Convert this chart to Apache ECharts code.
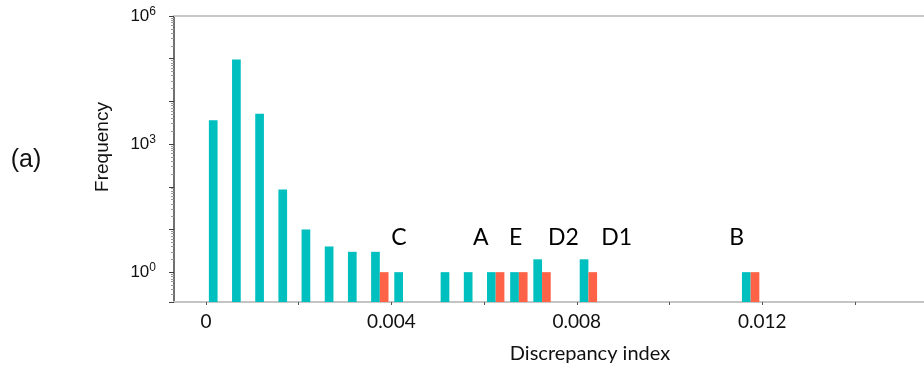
<!DOCTYPE html>
<html>
<head>
<meta charset="utf-8">
<script src="https://cdn.jsdelivr.net/npm/echarts@6/dist/echarts.min.js"></script>
<style>
  html, body { margin: 0; padding: 0; background: #ffffff; }
  #chart { width: 924px; height: 368px; }
</style>
</head>
<body>
<div id="chart"></div>
<script>
// Histogram bin centres along the discrepancy index
const binCenters = [0.00025, 0.00075, 0.00125, 0.00175, 0.00225, 0.00275, 0.00325, 0.00375,
                    0.00425, 0.00525, 0.00575, 0.00625, 0.00675, 0.00725, 0.00825, 0.01175];
// Counts for all items (teal) and for the flagged items (orange); null = empty bin
const countsAll    = [3600, 96000, 5100, 86, 10, 4, 3, 3, 1, 1, 1, 1, 1, 2, 2, 1];
const countsMarked = [null, null, null, null, null, null, null, 1, null, null, null, 1, 1, 1, 1, 1];

// Letter annotations above the flagged bins
const markerNames = ['C', 'A', 'E', 'D2', 'D1', 'B'];
const markerX     = [0.00416, 0.00593, 0.00668, 0.00771, 0.00886, 0.01145];
const markerY     = [6.6, 6.6, 6.6, 6.6, 6.6, 6.6];

// Axis ticks and labels
const xTickValues  = [0, 0.002, 0.004, 0.006, 0.008, 0.010, 0.012, 0.014];
const xLabelValues = [0, 0.004, 0.008, 0.012];
const yLabelPowers = [0, 3, 6];

const X_MIN = -0.00069, X_MAX = 0.01549;
const Y_MIN = 0.2, Y_MAX = 1e6;
const BAR_W = 8.7;
const TEAL = '#00bfbf';
const ORANGE = '#ff6347';

function barSeries(name, values, color, offset) {
  const data = [];
  binCenters.forEach((x, i) => { if (values[i] != null) data.push([x, values[i]]); });
  return {
    name: name,
    type: 'custom',
    xAxisIndex: 0,
    yAxisIndex: 0,
    data: data,
    encode: { x: 0, y: 1 },
    renderItem: function (params, api) {
      const top = api.coord([api.value(0), api.value(1)]);
      const base = api.coord([api.value(0), Y_MIN]);
      return {
        type: 'rect',
        shape: { x: top[0] + offset, y: top[1], width: BAR_W, height: base[1] - top[1] },
        style: { fill: color }
      };
    }
  };
}

const chart = echarts.init(document.getElementById('chart'), null, { renderer: 'canvas' });

chart.setOption({
  animation: false,
  backgroundColor: '#ffffff',
  grid: { left: 174, top: 16, right: 0, bottom: 66, containLabel: false },
  xAxis: [{
    type: 'value',
    min: X_MIN,
    max: X_MAX,
    axisLine: { show: true, onZero: false, lineStyle: { color: '#c4c4c4', width: 2 } },
    axisTick: { show: true, customValues: xTickValues, length: 3, lineStyle: { color: '#555555', width: 1 } },
    axisLabel: {
      customValues: xLabelValues,
      formatter: v => (Math.abs(v) < 1e-12 ? '0' : v.toFixed(3)),
      fontFamily: 'Lato', fontSize: 19, color: '#111111', margin: 10
    },
    splitLine: { show: false }
  }, {
    type: 'value',
    position: 'top',
    min: X_MIN,
    max: X_MAX,
    axisLine: { show: true, onZero: false, lineStyle: { color: '#c8c8c8', width: 2 } },
    axisTick: { show: false },
    axisLabel: { show: false },
    splitLine: { show: false }
  }],
  yAxis: {
    type: 'log',
    logBase: 10,
    min: Y_MIN,
    max: Y_MAX,
    axisLine: { show: true, onZero: false, lineStyle: { color: '#404040', width: 1.5 } },
    axisTick: { show: true, length: 5, lineStyle: { color: '#404040' } },
    minorTick: { show: true, splitNumber: 9, length: 3, lineStyle: { color: '#9a9a9a' } },
    splitLine: { show: false },
    axisLabel: {
      margin: 18,
      formatter: function (v) {
        const lg = Math.log10(v);
        const p = Math.round(lg);
        if (Math.abs(lg - p) > 1e-6 || yLabelPowers.indexOf(p) < 0) return '';
        return '10{sup|' + p + '}';
      },
      fontFamily: 'Liberation Sans', fontSize: 17, color: '#111111',
      rich: {
        sup: { fontFamily: 'Liberation Sans', fontSize: 12, color: '#111111', padding: [0, 0, 8, 0] }
      }
    }
  },
  series: [
    barSeries('All', countsAll, TEAL, -BAR_W),
    barSeries('Flagged', countsMarked, ORANGE, 0),
    {
      name: 'Markers',
      type: 'scatter',
      xAxisIndex: 0,
      yAxisIndex: 0,
      symbol: 'circle',
      symbolSize: 1,
      itemStyle: { color: 'rgba(0,0,0,0)' },
      emphasis: { disabled: true },
      data: markerNames.map((n, i) => ({ name: n, value: [markerX[i], markerY[i]] })),
      label: {
        show: true,
        position: 'inside',
        formatter: '{b}',
        fontFamily: 'Lato', fontSize: 23, color: '#000000', opacity: 1
      }
    }
  ],
  graphic: [
    {
      type: 'text', x: 26, y: 160,
      style: { text: '(a)', fontFamily: 'Liberation Sans', fontSize: 25, fill: '#111111',
               align: 'center', verticalAlign: 'middle' }
    },
    {
      type: 'text', x: 103, y: 147, rotation: Math.PI / 2,
      style: { text: 'Frequency', fontFamily: 'Liberation Sans', fontSize: 19, fill: '#111111',
               align: 'center', verticalAlign: 'middle' }
    },
    {
      type: 'text', x: 590, y: 354,
      style: { text: 'Discrepancy index', fontFamily: 'Lato', fontSize: 20, fill: '#111111',
               align: 'center', verticalAlign: 'middle' }
    }
  ]
});
</script>
</body>
</html>
